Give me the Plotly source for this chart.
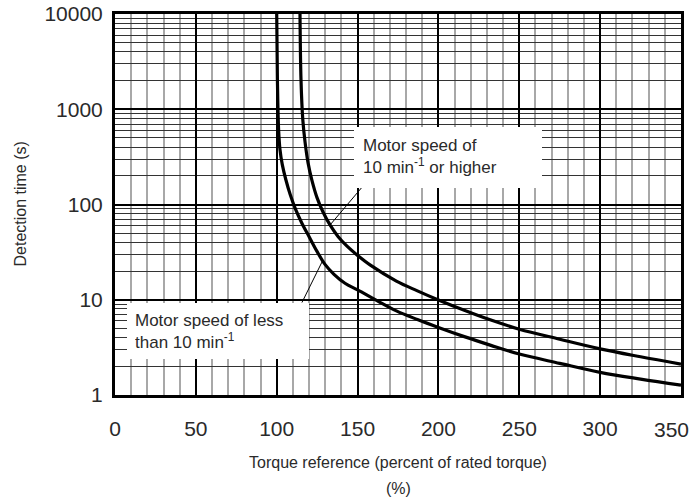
import plotly.graph_objects as go

# Curve: motor speed of less than 10 min-1
low_x = [100.0, 100.43, 101.17, 102.03, 103.45, 105.62, 108.34, 111.68, 115.64, 120.28,
         124.91, 129.86, 135.42, 142.22, 150.0, 162.0, 174.0, 187.0, 200.0, 216.0, 232.0,
         250.0, 275.0, 300.0, 325.0, 350.0]
low_y = [10000, 2037, 610, 377, 262, 183, 127, 88.7, 63.2, 45.1,
         32.2, 23.5, 18.5, 14.9, 12.7, 9.8, 7.64, 6.2, 5.12, 4.1, 3.34,
         2.69, 2.15, 1.73, 1.47, 1.27]

# Curve: motor speed of 10 min-1 or higher
high_x = [114.4, 115.02, 116.13, 117.49, 119.35, 121.82, 124.92, 128.63, 132.95, 137.9,
          143.47, 150.0, 157.7, 174.0, 187.0, 200.0, 216.0, 232.0, 250.0, 275.0, 300.0,
          325.0, 350.0]
high_y = [10000, 2037, 776, 457, 275, 178, 118, 83.4, 61.0, 46.2,
          36.5, 29.2, 23.2, 15.7, 12.4, 9.95, 7.75, 6.15, 4.91, 3.85, 3.05,
          2.52, 2.11]

x_ticks = [0, 50, 100, 150, 200, 250, 300, 350]
x_tick_text = ["0", "50", "100", "150", "200", "250", "300", ""]
x_last_label = "350"
y_ticks = [1, 10, 100, 1000, 10000]
y_tick_text = ["1", "10", "100", "1000", "10000"]

label_high = "Motor speed of<br>10 min<sup>-1</sup> or higher"
label_low = "Motor speed of less<br>than 10 min<sup>-1</sup>"
leader_high_x = [155.2, 133.0]
leader_high_y = [170, 61]
leader_low_x = [115.6, 128.3]
leader_low_y = [9.35, 25.5]

FONT = "Liberation Sans, Arial, sans-serif"
TXT = "#2a2a2a"

fig = go.Figure()
for xs, ys in [(low_x, low_y), (high_x, high_y)]:
    fig.add_trace(go.Scatter(x=xs, y=ys, mode="lines",
                             line=dict(color="black", width=3.2, shape="spline", smoothing=1),
                             hoverinfo="skip", showlegend=False))
for xs, ys in [(leader_high_x, leader_high_y), (leader_low_x, leader_low_y)]:
    fig.add_trace(go.Scatter(x=xs, y=ys, mode="lines",
                             line=dict(color="black", width=1),
                             hoverinfo="skip", showlegend=False))

fig.update_layout(
    width=694, height=502,
    margin=dict(l=115, r=13, t=14, b=107, autoexpand=False),
    paper_bgcolor="white", plot_bgcolor="white",
    font=dict(family=FONT, color=TXT),
    showlegend=False,
    xaxis=dict(
        range=[0, 350], tickvals=x_ticks, ticktext=x_tick_text,
        tickfont=dict(size=21, color=TXT),
        ticks="outside", ticklen=13, tickcolor="rgba(0,0,0,0)",
        automargin=False,
        showgrid=True, gridcolor="black", gridwidth=1.6,
        minor=dict(dtick=10, showgrid=True, gridcolor="#a8a8a8", gridwidth=1.5, ticks=""),
        zeroline=False,
        showline=True, linecolor="black", linewidth=3, mirror=True,
    ),
    yaxis=dict(
        type="log", range=[0, 4], tickvals=y_ticks, ticktext=y_tick_text,
        tickfont=dict(size=21, color=TXT),
        ticks="outside", ticklen=5, tickcolor="rgba(0,0,0,0)",
        ticklabeloverflow="allow", automargin=False,
        showgrid=True, gridcolor="black", gridwidth=1.6,
        minor=dict(dtick="D1", showgrid=True, gridcolor="#333333", gridwidth=1, ticks=""),
        zeroline=False,
        showline=True, linecolor="black", linewidth=3, mirror=True,
    ),
)

# Last x tick label, nudged left to stay inside the page
fig.add_annotation(x=x_ticks[-1], y=0, xref="x", yref="paper", xanchor="right",
                   yanchor="middle", xshift=10, yshift=-34, showarrow=False,
                   text=x_last_label, font=dict(size=21, color=TXT, family=FONT))

# Text boxes
fig.add_annotation(x=205.9, y=2.497, xref="x", yref="y", text=label_high,
                   showarrow=False, align="left", valign="top", width=170, height=43,
                   bgcolor="white", borderpad=9, borderwidth=0,
                   font=dict(size=17, color=TXT, family=FONT))
fig.add_annotation(x=63.7, y=0.670, xref="x", yref="y", text=label_low,
                   showarrow=False, align="left", valign="top", width=166, height=40,
                   bgcolor="white", borderpad=8, borderwidth=0,
                   font=dict(size=17, color=TXT, family=FONT))

# Axis titles
fig.add_annotation(x=0.5, y=0, xref="paper", yref="paper", yanchor="middle",
                   yshift=-67, showarrow=False,
                   text="Torque reference (percent of rated torque)",
                   font=dict(size=16, color=TXT, family=FONT))
fig.add_annotation(x=0.5, y=0, xref="paper", yref="paper", yanchor="middle",
                   yshift=-93, showarrow=False, text="(%)",
                   font=dict(size=16, color=TXT, family=FONT))
fig.add_annotation(x=0, y=0.5, xref="paper", yref="paper", xanchor="center",
                   xshift=-95, showarrow=False, textangle=-90,
                   text="Detection time (s)",
                   font=dict(size=16, color=TXT, family=FONT))

fig.write_html("out.html")
